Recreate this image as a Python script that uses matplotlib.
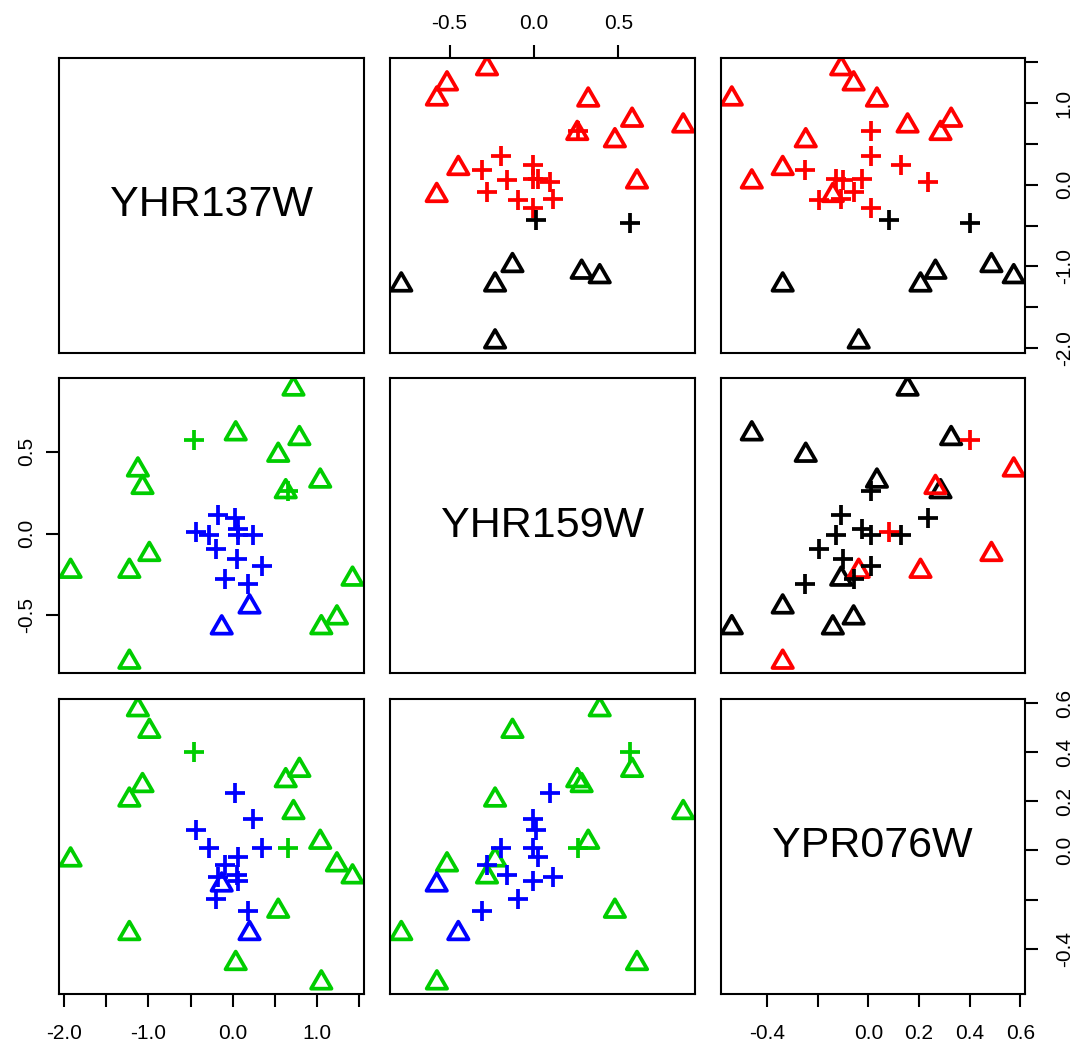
import numpy as np
import matplotlib
matplotlib.use("Agg")
import matplotlib.pyplot as plt
from matplotlib.path import Path

plt.rcParams["font.family"] = ["Liberation Sans", "DejaVu Sans"]

# ---------------------------------------------------------------------------
# Data (31 observations, read off the scatterplot matrix)
# ---------------------------------------------------------------------------
genes = ["YHR137W", "YHR159W", "YPR076W"]

yhr137w = [1.420, 1.235, 1.050, 1.037, 0.790, 0.720, 0.628, 0.539, 0.199, -0.131,
           0.035, -1.226, -0.989, -1.226, -1.070, -1.125, -1.923,
           0.351, 0.175, 0.245, 0.053, 0.065, 0.065, 0.032, -0.091, -0.193,
           -0.180, -0.287, -0.438, -0.464, 0.655]
yhr159w = [-0.278, -0.515, -0.575, 0.322, 0.582, 0.885, 0.257, 0.480, -0.448, -0.576,
           0.611, -0.786, -0.127, -0.230, 0.283, 0.390, -0.230,
           -0.197, -0.306, -0.008, -0.157, -0.008, 0.027, 0.097, -0.280, -0.092,
           0.111, -0.008, 0.010, 0.570, 0.259]
ypr076w = [-0.107, -0.058, -0.539, 0.034, 0.327, 0.155, 0.285, -0.247, -0.338, -0.140,
           -0.460, -0.338, 0.486, 0.206, 0.265, 0.574, -0.038,
           0.012, -0.248, 0.129, -0.098, -0.126, -0.025, 0.236, -0.058, -0.196,
           -0.107, 0.010, 0.083, 0.403, 0.012]

# symbol: 0 = triangle, 1 = plus
symbol = [0] * 17 + [1] * 14
# grouping used for the upper panels and for the lower panels
upper_group = [0] * 11 + [1] * 6 + [0] * 11 + [1, 1, 0]
lower_group = [0] * 8 + [1, 1] + [0] * 7 + [1] * 12 + [0, 0]

# tick positions / labels (R drops labels that would overlap)
ticks = {
    0: ([-2.0, -1.5, -1.0, -0.5, 0.0, 0.5, 1.0, 1.5],
        ["-2.0", "", "-1.0", "", "0.0", "", "1.0", ""]),
    1: ([-0.5, 0.0, 0.5], ["-0.5", "0.0", "0.5"]),
    2: ([-0.4, -0.2, 0.0, 0.2, 0.4, 0.6],
        ["-0.4", "", "0.0", "0.2", "0.4", "0.6"]),
}

# ---------------------------------------------------------------------------
data = np.array([yhr137w, yhr159w, ypr076w])
symbol = np.array(symbol)
upper_group = np.array(upper_group)
lower_group = np.array(lower_group)

GREEN = "#00CD00"
RED = "#FF0000"
BLUE = "#0000FF"

W, H = 1077, 1042
fig = plt.figure(figsize=(W / 100, H / 100), dpi=100)

col_left = [59.3, 390.0, 720.5]
row_top = [57.7, 378.0, 698.7]
pw, ph = 304.5, 295.0

tri = Path([(0, 1), (-0.866, -0.5), (0.866, -0.5), (0, 1)],
           [Path.MOVETO, Path.LINETO, Path.LINETO, Path.CLOSEPOLY])

lims = []
for v in data:
    lo, hi = v.min(), v.max()
    r = hi - lo
    lims.append((lo - 0.04 * r, hi + 0.04 * r))


def panel_colors(i, j):
    if i < j:
        if i == 0:
            return np.where(upper_group == 1, "black", RED)
        return np.where(upper_group == 1, RED, "black")
    return np.where(lower_group == 1, BLUE, GREEN)


for i in range(3):
    for j in range(3):
        ax = fig.add_axes([col_left[j] / W, 1 - (row_top[i] + ph) / H, pw / W, ph / H])
        ax.set_xlim(lims[j])
        ax.set_ylim(lims[i])
        for s in ax.spines.values():
            s.set_linewidth(1.5)

        if i == j:
            ax.text(0.5, 0.5, genes[i], transform=ax.transAxes, ha="center",
                    va="center", fontsize=31)
        else:
            x, y = data[j], data[i]
            cols = panel_colors(i, j)
            m = symbol == 0
            ax.scatter(x[m], y[m], marker=tri, s=17 ** 2, facecolors="none",
                       edgecolors=cols[m], linewidths=2.7)
            for col in np.unique(cols):
                mm = (symbol == 1) & (cols == col)
                ax.plot(x[mm], y[mm], linestyle="none", marker="+", markersize=14.5,
                        markeredgewidth=2.7, color=col)

        ax.set_xticks(ticks[j][0])
        ax.set_xticklabels(ticks[j][1])
        ax.set_yticks(ticks[i][0])
        ax.set_yticklabels(ticks[i][1], rotation=90, va="center")

        show_bottom = (i == 2 and j % 2 == 0)
        show_top = (i == 0 and j % 2 == 1)
        show_left = (j == 0 and i % 2 == 1)
        show_right = (j == 2 and i % 2 == 0)
        ax.tick_params(axis="x", bottom=show_bottom, labelbottom=show_bottom,
                       top=show_top, labeltop=show_top, direction="out",
                       length=9.5, width=1.5, labelsize=15)
        ax.tick_params(axis="y", left=show_left, labelleft=show_left,
                       right=show_right, labelright=show_right, direction="out",
                       length=9.5, width=1.5, labelsize=15)
        if show_bottom:
            ax.tick_params(axis="x", pad=12)
        if show_top:
            ax.tick_params(axis="x", pad=8)
        if show_left:
            ax.tick_params(axis="y", pad=7)
        if show_right:
            ax.tick_params(axis="y", pad=12)

fig.savefig("out.png", dpi=100)
